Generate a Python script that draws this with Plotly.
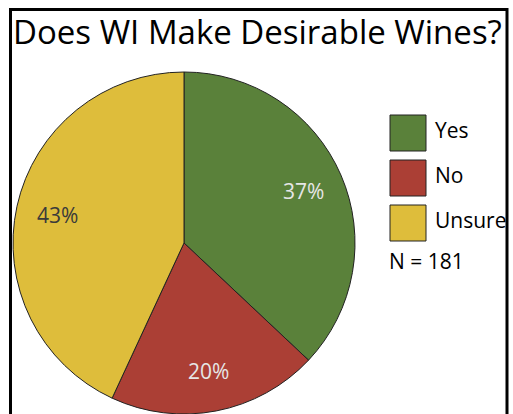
import math
import plotly.graph_objects as go

categories = ["Yes", "No", "Unsure"]
counts = [67, 36, 78]
colors = ["#5a813a", "#ab3f35", "#debd3b"]
text_colors = ["#e6e6e6", "#e6e6e6", "#3a3a3a"]
title_text = "Does WI Make Desirable Wines?"
n_text = "N = " + str(sum(counts))

W, H = 513, 414
# pie geometry (pixels)
cx, cy, R = 184, 243, 171
label_frac = 0.76

fig = go.Figure()
fig.add_trace(go.Pie(
    labels=categories, values=counts, sort=False, direction="clockwise", rotation=0,
    marker=dict(colors=colors, line=dict(color="#222222", width=1)),
    textinfo="none",
    domain=dict(x=[(cx - R) / W, (cx + R) / W], y=[(H - cy - R) / H, (H - cy + R) / H]),
    showlegend=False, hoverinfo="label+percent",
))

shapes = [dict(type="rect", xref="paper", yref="paper",
               x0=10.5 / W, x1=507 / W, y0=-0.05, y1=1 - 9.5 / H,
               line=dict(color="black", width=3), fillcolor="rgba(0,0,0,0)")]
annotations = [dict(text=title_text, xref="paper", yref="paper", x=11 / W, y=1 - 31 / H,
                    xanchor="left", yanchor="middle", showarrow=False,
                    font=dict(family="Open Sans", size=33, color="black"))]

# percentage labels along slice bisectors
total = sum(counts)
cum = 0
for v, tc in zip(counts, text_colors):
    mid = (cum + v / 2) / total * 2 * math.pi
    cum += v
    px = cx + label_frac * R * math.sin(mid)
    py = cy - label_frac * R * math.cos(mid)
    annotations.append(dict(text=f"{round(100 * v / total)}%", xref="paper", yref="paper",
                            x=px / W, y=1 - py / H, xanchor="center", yanchor="middle",
                            showarrow=False, font=dict(family="Open Sans", size=21, color=tc)))

sq_top = 115
for i, (cat, col) in enumerate(zip(categories, colors)):
    top = sq_top + i * 45
    shapes.append(dict(type="rect", xref="paper", yref="paper",
                       x0=390 / W, x1=426 / W, y0=1 - (top + 36) / H, y1=1 - top / H,
                       fillcolor=col, line=dict(color="#222222", width=1)))
    annotations.append(dict(text=cat, xref="paper", yref="paper", x=433 / W, y=1 - (top + 15) / H,
                            xanchor="left", yanchor="middle", showarrow=False,
                            font=dict(family="Open Sans", size=21, color="black")))
annotations.append(dict(text=n_text, xref="paper", yref="paper", x=387 / W, y=1 - 261 / H,
                        xanchor="left", yanchor="middle", showarrow=False,
                        font=dict(family="Open Sans", size=21, color="black")))

fig.update_layout(width=W, height=H, margin=dict(l=0, r=0, t=0, b=0),
                  paper_bgcolor="white", plot_bgcolor="white",
                  shapes=shapes, annotations=annotations)
fig.write_html("out.html")
